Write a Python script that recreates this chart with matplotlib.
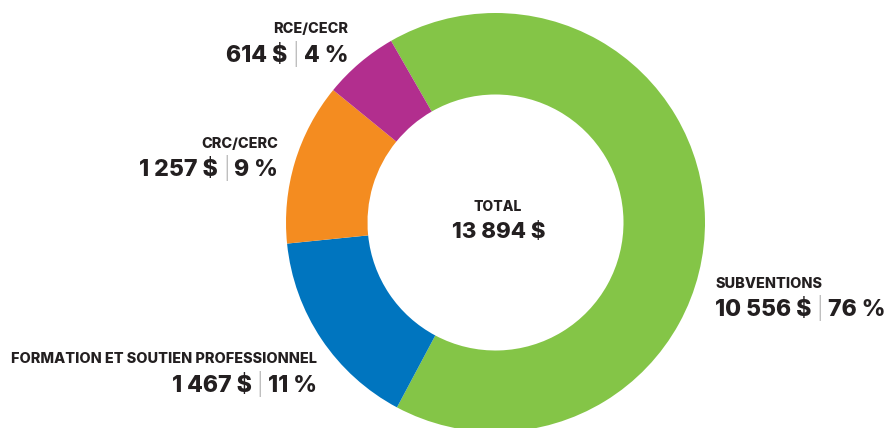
import matplotlib
matplotlib.use("Agg")
import matplotlib.pyplot as plt

# ---- data ----
categories = ["SUBVENTIONS", "FORMATION ET SOUTIEN PROFESSIONNEL", "CRC/CERC", "RCE/CECR"]
amount_labels = ["10 556 $", "1 467 $", "1 257 $", "614 $"]
pct_labels = ["76 %", "11 %", "9 %", "4 %"]
# slice shares as drawn in the picture (percent of the ring)
slice_shares = [66.1, 15.6, 12.5, 5.8]
colors = ["#84C547", "#0075BF", "#F48C20", "#B22E8E"]
total_label = "TOTAL"
total_value = "13 894 $"

W, H = 888, 428
fig = plt.figure(figsize=(W / 100, H / 100), dpi=100)
ax = fig.add_axes([0, 0, 1, 1])

cx, cy_top, R = 495.5, 222.5, 209.5
cy = H - cy_top
ax.pie(slice_shares, colors=colors, startangle=119.9, counterclock=False,
       center=(cx, cy), radius=R,
       wedgeprops=dict(width=R - 128, edgecolor="none", linewidth=0))
ax.set_xlim(0, W)
ax.set_ylim(0, H)
ax.set_aspect("equal")
ax.axis("off")

FONT = "Inter"
WEIGHT = "heavy"
DARK = "#231F20"
fig.canvas.draw()
renderer = fig.canvas.get_renderer()


def label(x, y_base, s, ha, size=10.4):
    ax.text(x, H - y_base, s, ha=ha, va="baseline", fontsize=size,
            fontweight=WEIGHT, color=DARK, family=FONT)


def value_line(x, y_base, amount, pct, ha, size=16.6):
    pieces = [(amount + " ", dict(fontweight=WEIGHT, color=DARK)),
              ("|", dict(fontweight="light", color="#9A9A9A", fontsize=size * 0.95)),
              (" " + pct, dict(fontweight=WEIGHT, color=DARK))]
    texts = []
    xp = x
    for s, kw in pieces:
        kw = dict(kw)
        fs = kw.pop("fontsize", size)
        t = ax.text(xp, H - y_base, s, ha="left", va="baseline", fontsize=fs,
                    family=FONT, **kw)
        bb = t.get_window_extent(renderer=renderer)
        xp += bb.width
        texts.append(t)
    total_w = xp - x
    if ha == "right":
        shift = -total_w
    elif ha == "center":
        shift = -total_w / 2
    else:
        shift = 0
    for t in texts:
        px, py = t.get_position()
        t.set_position((px + shift, py))


label(348, 33, categories[3], "right")
value_line(348, 62, amount_labels[3], pct_labels[3], "right")
label(278, 148, categories[2], "right")
value_line(278, 176, amount_labels[2], pct_labels[2], "right")
label(317, 363, categories[1], "right")
value_line(317, 392, amount_labels[1], pct_labels[1], "right")
label(715, 288, categories[0], "left")
value_line(715, 316, amount_labels[0], pct_labels[0], "left")

ax.text(497.5, H - 210.5, total_label, ha="center", va="baseline", fontsize=10,
        fontweight=WEIGHT, color=DARK, family=FONT)
ax.text(499, H - 238, total_value, ha="center", va="baseline", fontsize=16,
        fontweight=WEIGHT, color=DARK, family=FONT)

fig.savefig("out.png", dpi=100)
